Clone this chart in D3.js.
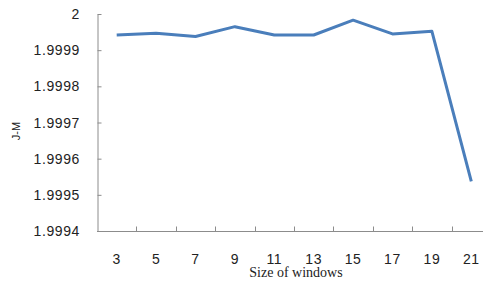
<!DOCTYPE html>
<html>
<head>
<meta charset="utf-8">
<script src="https://cdn.jsdelivr.net/npm/d3@7"></script>
<style>
  body { margin: 0; background: #fff; }
  svg { display: block; }
</style>
</head>
<body>
<figure id="chart" style="margin:0"></figure>
<script>
// data
const windows = ["3", "5", "7", "9", "11", "13", "15", "17", "19", "21"];
const jm = [1.999942, 1.999947, 1.999938, 1.999965, 1.999942, 1.999942, 1.999983, 1.999945, 1.999952, 1.999537];
const yTicks = [1.9994, 1.9995, 1.9996, 1.9997, 1.9998, 1.9999, 2];
const yTickLabels = ["1.9994", "1.9995", "1.9996", "1.9997", "1.9998", "1.9999", "2"];

const width = 483, height = 284;
const marginLeft = 97, plotTop = 14, plotBottom = 231, plotRight = 491;

const svg = d3.select("figure#chart")
  .append("svg")
  .attr("width", width)
  .attr("height", height);

const x = d3.scaleBand()
  .domain(windows)
  .range([marginLeft, plotRight]);

const y = d3.scaleLinear()
  .domain([1.9994, 2])
  .range([plotBottom, plotTop]);

const axisColor = "#8c8c8c";

// y axis, ticks pointing inward
const yAxis = svg.append("g")
  .attr("transform", "translate(" + (marginLeft + 0.5) + ",0)")
  .call(d3.axisRight(y).tickValues(yTicks).tickSize(4).tickSizeOuter(0).tickFormat(""));
yAxis.select(".domain").attr("stroke", axisColor);
yAxis.selectAll(".tick line").attr("stroke", axisColor);

svg.append("g").selectAll("text")
  .data(yTicks)
  .enter()
  .append("text")
  .attr("x", 80)
  .attr("y", d => y(d) + 5)
  .attr("text-anchor", "end")
  .style("font-family", "'Liberation Sans', Arial, sans-serif")
  .style("font-size", "14px")
  .style("letter-spacing", "0.6px")
  .style("fill", "#222")
  .text((d, i) => yTickLabels[i]);

// x axis, ticks at category boundaries pointing up
const xAxis = svg.append("g")
  .attr("transform", "translate(0," + (plotBottom + 0.5) + ")");
xAxis.append("line")
  .attr("x1", marginLeft).attr("x2", width)
  .attr("stroke", axisColor);
xAxis.selectAll("line.tk")
  .data(windows.slice(1))
  .enter()
  .append("line")
  .attr("class", "tk")
  .attr("x1", d => Math.round(x(d)) + 0.5)
  .attr("x2", d => Math.round(x(d)) + 0.5)
  .attr("y1", 0).attr("y2", -5)
  .attr("stroke", axisColor);

xAxis.selectAll("text")
  .data(windows)
  .enter()
  .append("text")
  .attr("x", d => x(d) + x.bandwidth() / 2)
  .attr("y", 32)
  .attr("text-anchor", "middle")
  .style("font-family", "'Liberation Sans', Arial, sans-serif")
  .style("font-size", "14px")
  .style("letter-spacing", "0.6px")
  .style("fill", "#222")
  .text(d => d);

// line
const line = d3.line()
  .x((d, i) => x(windows[i]) + x.bandwidth() / 2)
  .y(d => y(d));

svg.append("path")
  .datum(jm)
  .attr("fill", "none")
  .attr("stroke", "#4a7ebb")
  .attr("stroke-width", 3)
  .attr("stroke-linejoin", "round")
  .attr("d", line);

// axis titles
svg.append("text")
  .attr("x", 296)
  .attr("y", 277)
  .attr("text-anchor", "middle")
  .style("font-family", "'Liberation Serif', 'Times New Roman', serif")
  .style("font-size", "14px")
  .style("fill", "#222")
  .text("Size of windows");

svg.append("text")
  .attr("transform", "translate(20,131)rotate(-90)")
  .attr("text-anchor", "middle")
  .style("font-family", "'Liberation Sans', Arial, sans-serif")
  .style("font-size", "11px")
  .style("fill", "#222")
  .text("J-M");
</script>
</body>
</html>
